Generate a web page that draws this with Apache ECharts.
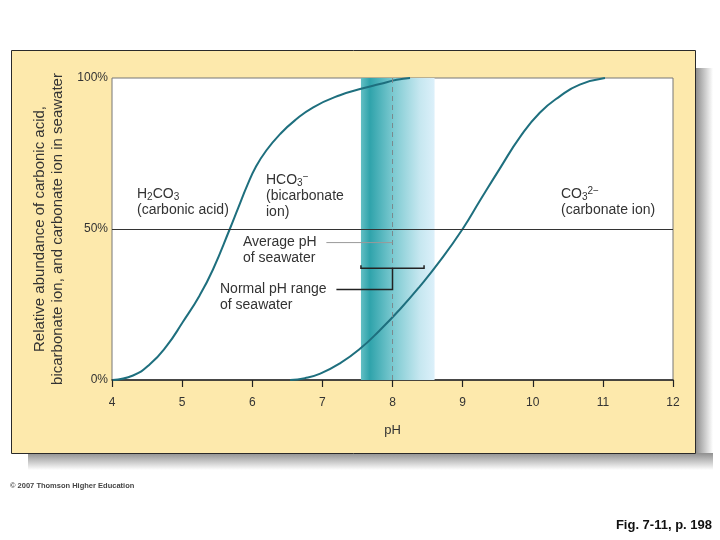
<!DOCTYPE html>
<html><head><meta charset="utf-8">
<script src="https://cdn.jsdelivr.net/npm/echarts@6/dist/echarts.min.js"></script>
<style>html,body{margin:0;padding:0;background:#fff}#c{width:720px;height:540px}</style>
</head><body><div id="c"></div>
<script>
// ---- data ----
const xTicks = [4, 5, 6, 7, 8, 9, 10, 11, 12];
const yTicks = [0, 50, 100];
const h2co3PH  = [4.01, 4.30, 4.54, 4.78, 5.01, 5.25, 5.44, 5.68, 5.80, 5.93, 6.05, 6.20, 6.40, 6.60, 6.87, 7.25, 7.58, 7.82, 8.06, 8.25];
const h2co3Pct = [0,    1.5,  5.2,  11.3, 19.2, 28.0, 36.6, 50,   57,   64.5, 70.5, 76,   81.5, 85.8, 90.3, 94.3, 96.6, 98,   99.4, 100];
const co3PH  = [6.54, 6.75, 6.97, 7.25, 7.54, 7.82, 8.11, 8.39, 8.68, 9.0, 9.25, 9.53, 9.82, 10.10, 10.39, 10.67, 11.03];
const co3Pct = [0,    0.6,  2.1,  5.5,  10.4, 16.5, 23.5, 31,   39.5, 50,  59.5, 70,   80.5, 88.5,  94,    97.8,  100];
const avgPH = 8.0;
const bandRange = [7.55, 8.6];
const bracketRange = [7.55, 8.45];
const bracketPct = 37;
const normalLeaderPct = 30;
const avgLeaderPct = 45.5;

const chart = echarts.init(document.getElementById('c'), null, {renderer: 'canvas'});
const curveColor = '#1e6f7e';
const txt = '#333';
const option = {
  animation: false,
  backgroundColor: '#ffffff',
  grid: {left: 112, right: 47, top: 78, bottom: 160, show: false},
  xAxis: {
    type: 'value', min: 4, max: 12, interval: 1,
    name: 'pH', nameLocation: 'middle', nameGap: 44,
    nameTextStyle: {color: txt, fontSize: 13, fontFamily: 'Liberation Sans'},
    axisLine: {lineStyle: {color: '#222', width: 1.5}},
    axisTick: {length: 7, lineStyle: {color: '#222', width: 1.2}},
    axisLabel: {color: txt, fontSize: 12, margin: 17, fontFamily: 'Liberation Sans'},
    splitLine: {show: false}
  },
  yAxis: {
    type: 'value', min: 0, max: 100, interval: 50,
    name: 'Relative abundance of carbonic acid,\nbicarbonate ion, and carbonate ion in seawater',
    nameLocation: 'middle', nameGap: 45, nameRotate: 90,
    nameTextStyle: {color: txt, fontSize: 15, lineHeight: 18, fontFamily: 'Liberation Sans'},
    axisLine: {show: false}, axisTick: {show: false},
    axisLabel: {color: txt, fontSize: 12, margin: 4, formatter: '{value}%', fontFamily: 'Liberation Sans'},
    splitLine: {show: false}
  },
  series: [
    {
      type: 'line', data: [], silent: true,
      markArea: {
        silent: true,
        itemStyle: {
          color: {type: 'linear', x: 0, y: 0, x2: 1, y2: 0, colorStops: [
            {offset: 0, color: '#62bfc4'},
            {offset: 0.12, color: '#2fa3ab'},
            {offset: 0.45, color: '#7fcbd2'},
            {offset: 0.8, color: '#c6e7f0'},
            {offset: 1, color: '#dcf0fa'}
          ]}
        },
        data: [[{xAxis: bandRange[0]}, {xAxis: bandRange[1]}]]
      }
    },
    {
      type: 'line', data: [], silent: true,
      markLine: {
        silent: true, symbol: 'none', label: {show: false},
        data: [
          {yAxis: 50, lineStyle: {color: '#333', width: 1, type: 'solid'}},
          {xAxis: avgPH, lineStyle: {color: '#7a8a8e', width: 1, type: [5, 4]}}
        ]
      }
    },
    {
      type: 'line', smooth: 0.5, showSymbol: false,
      lineStyle: {color: curveColor, width: 2},
      data: h2co3PH.map((x, i) => [x, h2co3Pct[i]])
    },
    {
      type: 'line', smooth: 0.5, showSymbol: false,
      lineStyle: {color: curveColor, width: 2},
      data: co3PH.map((x, i) => [x, co3Pct[i]])
    }
  ]
};
chart.setOption(option);

const P = (x, y) => chart.convertToPixel({gridIndex: 0}, [x, y]);
const tl = P(4, 100), br = P(12, 0);
const bL = P(bracketRange[0], bracketPct), bR = P(bracketRange[1], bracketPct);
const stemX = (bL[0] + bR[0]) / 2;
const nY = P(7.2, normalLeaderPct);
const aL = P(7.0, avgLeaderPct), aR = P(avgPH, avgLeaderPct);

const rich = {
  a: {fontSize: 14, fontFamily: 'Liberation Sans', color: txt, lineHeight: 16},
  s: {fontSize: 10, fontFamily: 'Liberation Sans', color: txt, verticalAlign: 'bottom', lineHeight: 16, padding: [6, 0, 0, 0]},
  p: {fontSize: 10, fontFamily: 'Liberation Sans', color: txt, verticalAlign: 'top', lineHeight: 16, padding: [0, 0, 6, 0]}
};
function label(x, y, text) {
  return {type: 'text', x: x, y: y, z: 20, style: {text: text, rich: rich, fill: txt, font: '14px Liberation Sans', lineHeight: 16}};
}

chart.setOption({graphic: [
  {type: 'rect', z: -12, shape: {x: 696, y: 68, width: 17, height: 402},
    style: {fill: {type: 'linear', x: 0, y: 0, x2: 1, y2: 0, colorStops: [{offset: 0, color: '#8f8f8f'}, {offset: 1, color: '#ffffff'}]}}},
  {type: 'rect', z: -12, shape: {x: 28, y: 453, width: 685, height: 17},
    style: {fill: {type: 'linear', x: 0, y: 0, x2: 0, y2: 1, colorStops: [{offset: 0, color: '#8f8f8f'}, {offset: 1, color: '#ffffff'}]}}},
  {type: 'rect', z: -11, shape: {x: 11.5, y: 50.5, width: 684, height: 403},
    style: {fill: '#FDE9AC', stroke: '#2a2a2a', lineWidth: 1}},
  {type: 'rect', z: -10, shape: {x: tl[0], y: tl[1], width: br[0] - tl[0], height: br[1] - tl[1]},
    style: {fill: '#ffffff', stroke: '#777', lineWidth: 1}},
  // bracket
  {type: 'polyline', z: 15, shape: {points: [[bL[0], bL[1] - 3], [bL[0], bL[1]], [bR[0], bR[1]], [bR[0], bR[1] - 3]]},
    style: {stroke: '#222', lineWidth: 1.5, fill: null}},
  {type: 'polyline', z: 15, shape: {points: [[stemX, bL[1]], [stemX, nY[1]], [nY[0], nY[1]]]},
    style: {stroke: '#222', lineWidth: 1.5, fill: null}},
  {type: 'line', z: 15, shape: {x1: aL[0] + 4, y1: aL[1], x2: aR[0], y2: aR[1]},
    style: {stroke: '#999', lineWidth: 1}},
  label(137, 186, '{a|H}{s|2}{a|CO}{s|3}\n{a|(carbonic acid)}'),
  label(266, 172, '{a|HCO}{s|3}{p|−}\n{a|(bicarbonate}\n{a|ion)}'),
  label(561, 186, '{a|CO}{s|3}{p|2−}\n{a|(carbonate ion)}'),
  label(243, aL[1] - 8, '{a|Average pH}\n{a|of seawater}'),
  label(220, nY[1] - 8, '{a|Normal pH range}\n{a|of seawater}'),
  {type: 'text', x: 10, y: 482, z: 20, style: {text: '© 2007 Thomson Higher Education', fill: '#444', font: 'bold 7.5px Liberation Sans'}},
  {type: 'text', x: 712, y: 519, z: 20, style: {text: 'Fig. 7-11, p. 198', fill: '#111', font: 'bold 13px Liberation Sans', textAlign: 'right'}}
]});
</script>
</body></html>
